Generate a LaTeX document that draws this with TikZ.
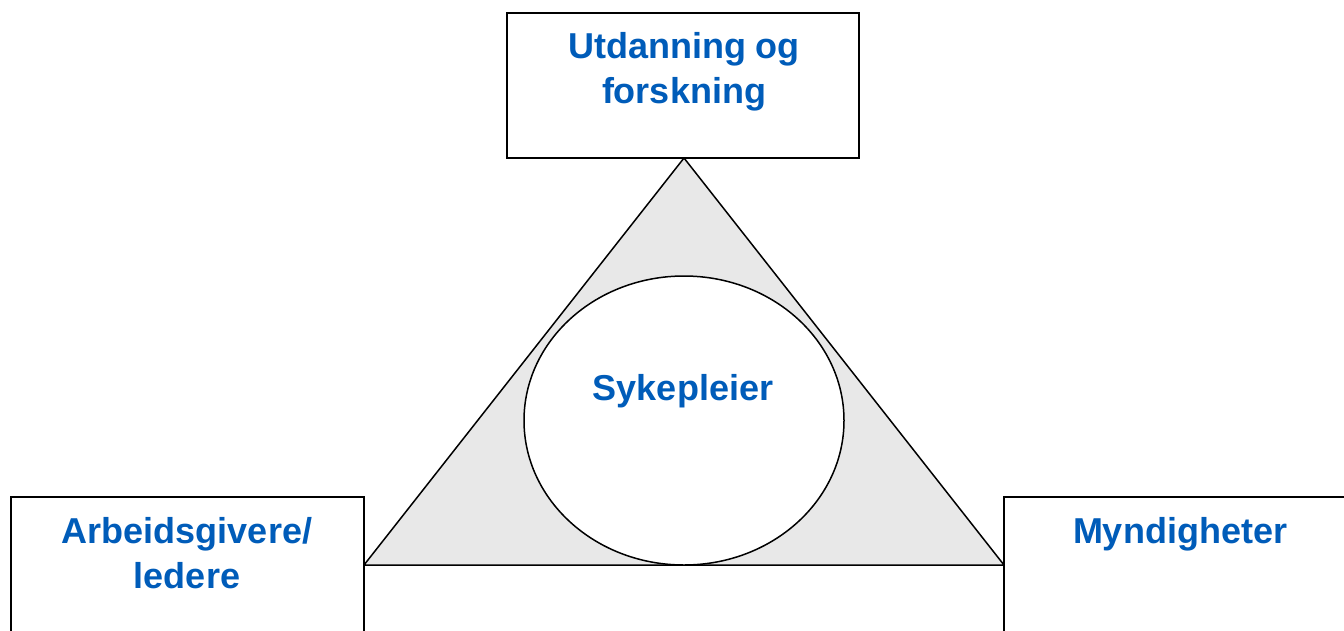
\documentclass[tikz,border=0pt]{standalone}
\usepackage{fontspec}
\setmainfont{Liberation Sans}
\definecolor{txtblue}{RGB}{0,92,185}
\definecolor{trifill}{RGB}{232,232,232}
\tikzset{
  box/.style={draw=black, line width=1.5pt, fill=white},
  lbl/.style={text=txtblue, font=\fontsize{36}{45}\selectfont\bfseries, anchor=base, inner sep=0pt}
}
\begin{document}
\begin{tikzpicture}[x=1pt, y=-1pt]
\useasboundingbox (0,0) rectangle (1344,630);
\clip (0,0) rectangle (1344,630);
% triangle
\coordinate (apex) at (684,158);
\coordinate (bl) at (364,565);
\coordinate (br) at (1004,565);
\draw[line width=1.5pt, fill=trifill, line join=miter] (apex) -- (bl) -- (br) -- cycle;
% ellipse
\draw[line width=1.5pt, fill=white] (684,420.5) ellipse [x radius=160, y radius=144.5];
% boxes
\draw[box] (507,13) rectangle (859,158);
\draw[box] (11,497) rectangle (364,642);
\draw[box] (1004,497) rectangle (1357,642);
% labels
\node[lbl] (t1) at (684,58) {Utdanning og};
\node[lbl] (t2) at (684,103) {forskning};
\node[lbl] (l1) at (187,543) {Arbeidsgivere/};
\node[lbl] (l2) at (187,588) {ledere};
\node[lbl] (r1) at (1180,543) {Myndigheter};
\node[lbl] (c1) at (683,400) {Sykepleier};
\end{tikzpicture}
\end{document}
